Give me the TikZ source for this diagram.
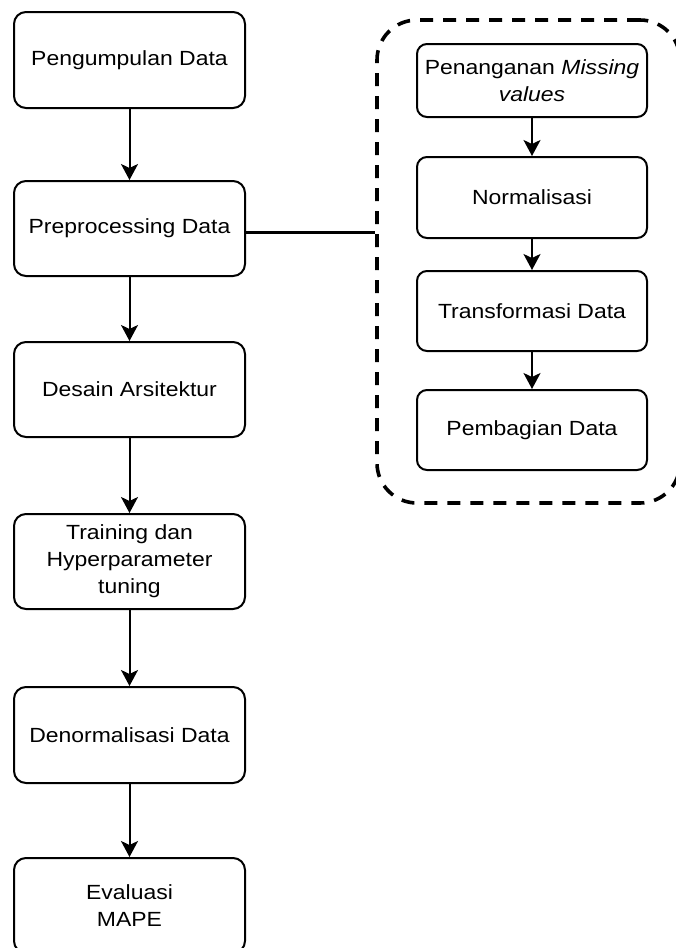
\documentclass[tikz,border=0pt]{standalone}
\usepackage{fontspec}
\setmainfont{Liberation Sans}[FakeStretch=1.12]
\usetikzlibrary{arrows.meta}
\begin{document}
\begin{tikzpicture}[x=1pt,y=-1pt,
  box/.style={draw,line width=2pt,rounded corners=12pt,minimum width=231pt,inner sep=0pt,align=center,font=\fontsize{20.5}{27}\selectfont},
  ibox/.style={box,rounded corners=10pt,minimum width=230pt},
  arr/.style={-{Stealth[length=16pt,width=17pt,inset=4pt]},line width=2pt},
  group/.style={draw,line width=3.6pt,dash pattern=on 13pt off 10pt,rounded corners=40pt,minimum width=303pt,minimum height=483pt,inner sep=0pt},
  link/.style={line width=3pt}]
\useasboundingbox (0,0) rectangle (675,948);
% left column
\node[box,minimum height=96pt] (p1) at (129.5,60) {Pengumpulan Data};
\node[box,minimum height=95pt] (p2) at (129.5,228.5) {Preprocessing Data};
\node[box,minimum height=95pt] (p3) at (129.5,389.5) {Desain Arsitektur};
\node[box,minimum height=95pt] (p4) at (129.5,561.5) {Training dan\\Hyperparameter\\tuning};
\node[box,minimum height=96pt] (p5) at (129.5,735) {Denormalisasi Data};
\node[box,minimum height=95pt] (p6) at (129.5,905.5) {Evaluasi\\MAPE};
% group
\node[group] (g) at (528.5,261.5) {};
\node[ibox,minimum height=73pt] (s1) at (532,80.5) {Penanganan \textit{Missing}\\\textit{values}};
\node[ibox,minimum height=81pt] (s2) at (532,197.5) {Normalisasi};
\node[ibox,minimum height=80pt] (s3) at (532,311) {Transformasi Data};
\node[ibox,minimum height=80pt] (s4) at (532,430) {Pembagian Data};
% arrows
\draw[arr] (p1) -- (p2);
\draw[arr] (p2) -- (p3);
\draw[arr] (p3) -- (p4);
\draw[arr] (p4) -- (p5);
\draw[arr] (p5) -- (p6);
\draw[arr] (s1) -- (s2);
\draw[arr] (s2) -- (s3);
\draw[arr] (s3) -- (s4);
\draw[link] ([yshift=-3.5pt]p2.east) -- ([yshift=-3.5pt]p2.east -| g.west);
\end{tikzpicture}
\end{document}
